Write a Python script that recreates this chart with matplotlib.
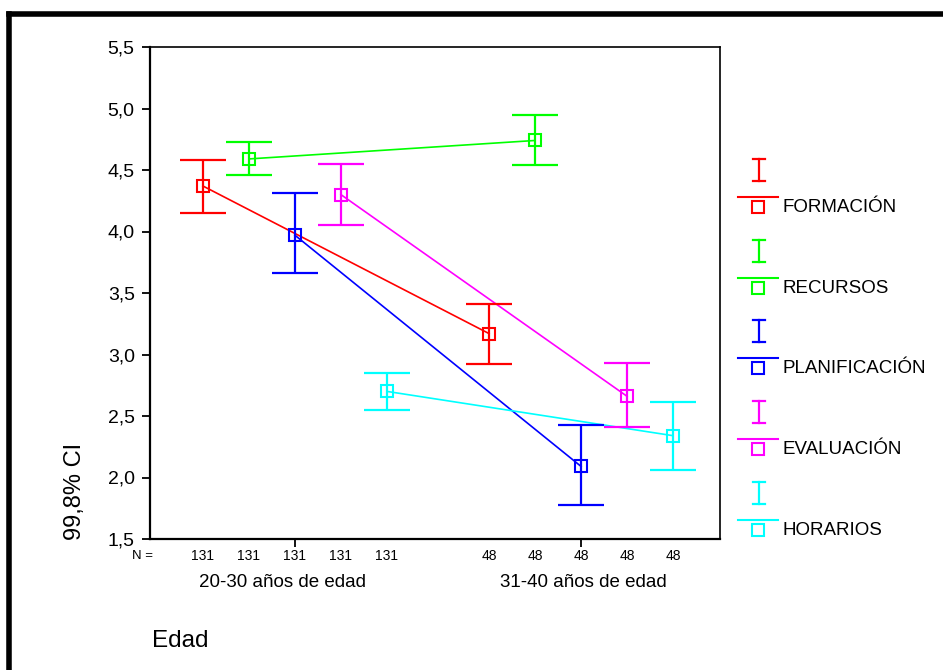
import matplotlib.pyplot as plt
from matplotlib.lines import Line2D

plt.rcParams['font.family'] = ['Liberation Sans', 'DejaVu Sans']

# data
series = ["FORMACIÓN", "RECURSOS", "PLANIFICACIÓN", "EVALUACIÓN", "HORARIOS"]
colors = ["#ff0000", "#00ff00", "#0000ff", "#ff00ff", "#00ffff"]
groups = ["20-30 años de edad", "31-40 años de edad"]
n_counts = [131, 48]

mean_2030 = [4.37, 4.59, 3.97, 4.30, 2.70]
lo_2030 = [4.15, 4.46, 3.66, 4.05, 2.55]
hi_2030 = [4.58, 4.73, 4.31, 4.55, 2.85]

mean_3140 = [3.17, 4.74, 2.09, 2.66, 2.34]
lo_3140 = [2.92, 4.54, 1.78, 2.41, 2.06]
hi_3140 = [3.41, 4.95, 2.43, 2.93, 2.61]

W, H = 943, 670
fig = plt.figure(figsize=(W / 100, H / 100), dpi=100)
ax = fig.add_axes([150 / W, 1 - 539 / H, 570 / W, 492 / H])

gap = 6.22  # offset of second group
x1 = [i for i in range(len(series))]
x2 = [i + gap for i in range(len(series))]

for i, (name, c) in enumerate(zip(series, colors)):
    xs = [x1[i], x2[i]]
    ms = [mean_2030[i], mean_3140[i]]
    lo = [mean_2030[i] - lo_2030[i], mean_3140[i] - lo_3140[i]]
    hi = [hi_2030[i] - mean_2030[i], hi_3140[i] - mean_3140[i]]
    ax.plot(xs, ms, color=c, lw=1.2, zorder=2)
    ax.errorbar(xs, ms, yerr=[lo, hi], fmt="none", ecolor=c, elinewidth=1.6,
                capsize=16.5, capthick=1.6, zorder=3)
    ax.plot(xs, ms, ls="none", marker="s", ms=8.5, mfc="none", mec=c, mew=1.5, zorder=4)

ax.set_xlim(-1.15, 11.24)
ax.set_ylim(1.5, 5.5)
ax.set_yticks([1.5, 2.0, 2.5, 3.0, 3.5, 4.0, 4.5, 5.0, 5.5])
ax.set_yticklabels([f"{v:.1f}".replace(".", ",") for v in ax.get_yticks()], fontsize=14)
ax.set_xticks([2, 2 + gap])
ax.set_xticklabels([])
ax.tick_params(direction="out", length=6, width=1.3, color="black", pad=5)
ax.spines["left"].set_linewidth(1.6)
ax.spines["bottom"].set_linewidth(1.6)
ax.spines["top"].set_linewidth(1.2)
ax.spines["right"].set_linewidth(1.2)

# N counts and group labels under the axis
tr = ax.get_xaxis_transform()
ax.text(-1.08, -0.035, "N =", transform=tr, ha="right", va="center", fontsize=9.5)
for xs, n in ((x1, n_counts[0]), (x2, n_counts[1])):
    for x in xs:
        ax.text(x, -0.035, str(n), transform=tr, ha="center", va="center", fontsize=10)
ax.text(x1[2] - 0.26, -0.089, groups[0], transform=tr, ha="center", va="center", fontsize=13.5)
ax.text(x2[2] + 0.05, -0.089, groups[1], transform=tr, ha="center", va="center", fontsize=13.5)

fig.text(152 / W, 1 - 641 / H, "Edad", ha="left", va="center", fontsize=17.5)
fig.text(75 / W, 1 - 491 / H, "99,8% CI", rotation=90, ha="center", va="center", fontsize=17)

# overlay in pixel coordinates for legend and outer frame
ov = fig.add_axes([0, 0, 1, 1], facecolor="none")
ov.set_xlim(0, W)
ov.set_ylim(H, 0)
ov.axis("off")
ov.add_line(Line2D([9, W], [14, 14], color="black", lw=4))
ov.add_line(Line2D([9, 9], [14, H], color="black", lw=4))

for i, (name, c) in enumerate(zip(series, colors)):
    y0 = 197 + i * 80.7
    ov.add_line(Line2D([759, 759], [y0 - 38, y0 - 16], color=c, lw=1.6))
    ov.add_line(Line2D([753, 765], [y0 - 38, y0 - 38], color=c, lw=1.6))
    ov.add_line(Line2D([753, 765], [y0 - 16, y0 - 16], color=c, lw=1.6))
    ov.add_line(Line2D([738, 778], [y0, y0], color=c, lw=1.5))
    ov.plot([758], [y0 + 10], marker="s", ms=8, mfc="none", mec=c, mew=1.5)
    ov.text(782, y0 + 15, name, ha="left", va="baseline", fontsize=13.5)

fig.savefig("out.png", dpi=100)
